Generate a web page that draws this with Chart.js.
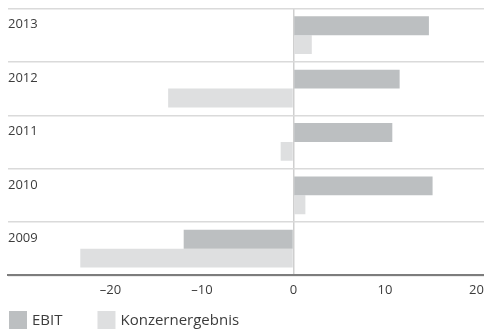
<!DOCTYPE html>
<html>
<head>
<meta charset="utf-8">
<script src="https://cdn.jsdelivr.net/npm/chart.js@4/dist/chart.umd.min.js"></script>
<style>
  html, body { margin: 0; padding: 0; background: #fff; overflow: hidden; }
  canvas { display: block; }
</style>
</head>
<body>
<canvas id="c" width="484" height="330"></canvas>
<script>
// Jahre (von oben nach unten)
const years = ['2013', '2012', '2011', '2010', '2009'];
// EBIT je Jahr
const ebit = [14.8, 11.6, 10.8, 15.2, -12.0];
// Konzernergebnis je Jahr
const konzernergebnis = [2.0, -13.7, -1.4, 1.3, -23.3];
// Beschriftete Werte der x-Achse
const xTicks = [-20, -10, 0, 10, 20];

const X_MIN = -31.2;
const X_MAX = 20.82;

const FONT = '"Open Sans", "Noto Sans", sans-serif';
const TEXT = '#3c3c3c';

// Legende unten links: Quadrat + Text je Datenreihe
const bottomLegend = {
  id: 'bottomLegend',
  afterDraw(chart) {
    const ctx = chart.ctx;
    const h = chart.height;
    const box = 18;
    const y = h - 19;
    let x = 9;
    ctx.save();
    ctx.font = '15px ' + FONT;
    ctx.textBaseline = 'middle';
    ctx.textAlign = 'left';
    chart.data.datasets.forEach(ds => {
      ctx.fillStyle = ds.backgroundColor;
      ctx.fillRect(x, y, box, box);
      ctx.fillStyle = TEXT;
      ctx.fillText(ds.label, x + box + 5, y + box / 2 + 1);
      x += box + 5 + ctx.measureText(ds.label).width + 35;
    });
    ctx.restore();
  }
};

new Chart(document.getElementById('c'), {
  type: 'bar',
  data: {
    labels: years,
    datasets: [
      { label: 'EBIT', data: ebit, backgroundColor: '#bcbfc1' },
      { label: 'Konzernergebnis', data: konzernergebnis, backgroundColor: '#dedfe0' }
    ]
  },
  options: {
    indexAxis: 'y',
    responsive: false,
    animation: false,
    layout: { padding: { top: 8.5, left: 8, right: 0, bottom: 32 } },
    datasets: { bar: { categoryPercentage: 0.707, barPercentage: 1.0 } },
    plugins: {
      legend: { display: false },
      tooltip: { enabled: false }
    },
    scales: {
      x: {
        min: X_MIN,
        max: X_MAX,
        // unbeschriftete Randticks, damit die Fläche bis an den Rand reicht
        afterBuildTicks(scale) {
          scale.ticks = [X_MIN, ...xTicks, X_MAX].map(v => ({ value: v }));
        },
        ticks: {
          color: TEXT,
          font: { family: FONT, size: 13 },
          padding: 0,
          maxRotation: 0,
          autoSkip: false,
          callback: v => {
            if (!xTicks.includes(v)) return '';
            return v < 0 ? '\u2013' + Math.abs(v) : String(v);
          }
        },
        grid: {
          drawTicks: true,
          tickLength: 7,
          tickColor: 'rgba(0,0,0,0)',
          lineWidth: 1.5,
          color: ctx => (ctx.tick && ctx.tick.value === 0 ? '#cfcfcf' : 'rgba(0,0,0,0)')
        },
        border: { display: true, color: '#7d7d7d', width: 2 }
      },
      y: {
        ticks: {
          mirror: true,
          padding: 0,
          labelOffset: -10.5,
          color: TEXT,
          font: { family: FONT, size: 13 }
        },
        grid: { drawTicks: false, color: '#dadada', lineWidth: 1.5 },
        border: { display: false }
      }
    }
  },
  plugins: [bottomLegend]
});
</script>
</body>
</html>
